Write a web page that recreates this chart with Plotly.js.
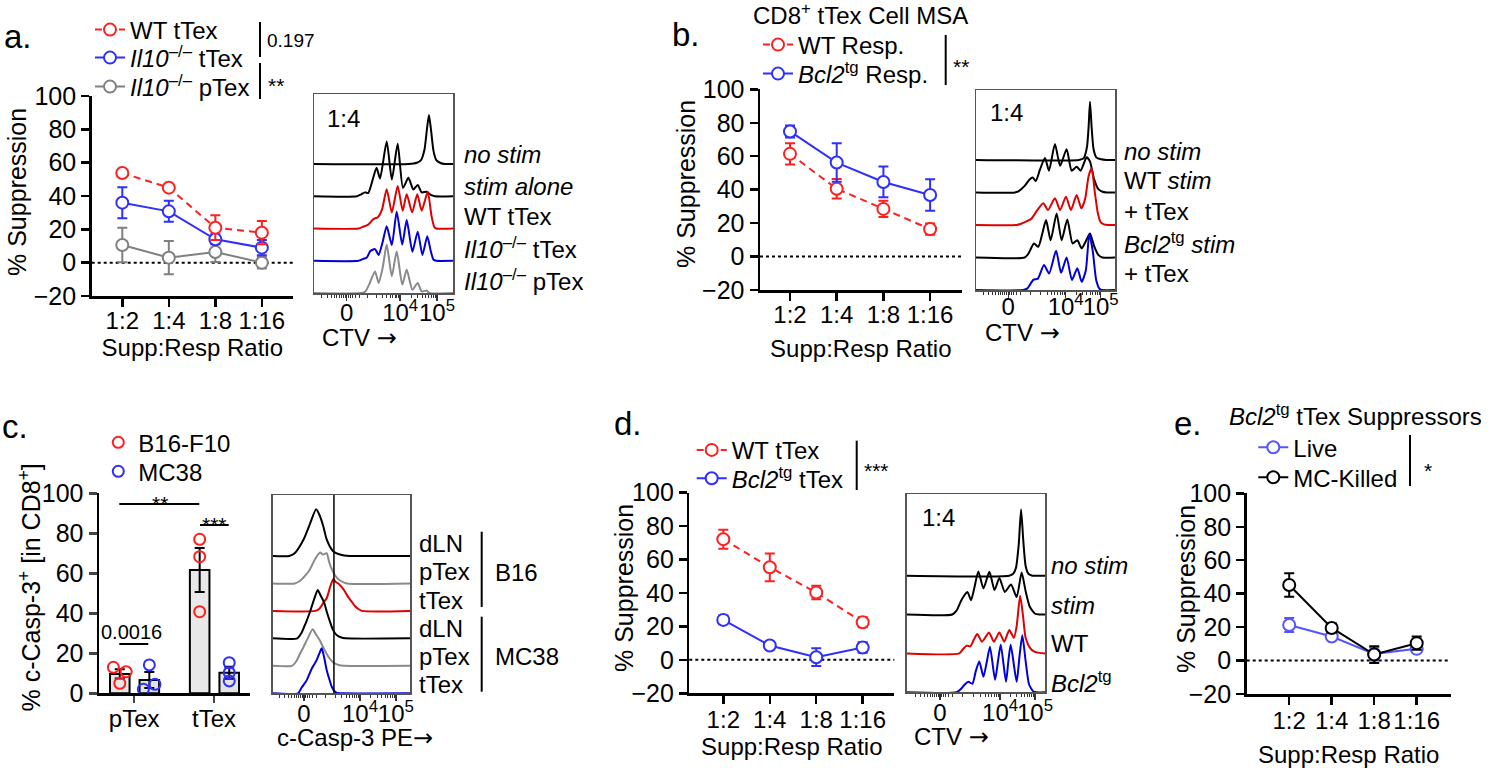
<!DOCTYPE html>
<html>
<head>
<meta charset="utf-8">
<script src="https://cdn.plot.ly/plotly-3.0.1.min.js"></script>
<style>html,body{margin:0;padding:0;background:#fff;}#chart{width:1500px;height:768px;}</style>
</head>
<body>
<div id="chart"></div>
<script>
// ---------------- DATA ----------------
const ratioCats = ['1:2', '1:4', '1:8', '1:16'];

// panel a: % suppression
const aWT = [53.8, 45.0, 21.0, 18.0];
const aWTerr = [1.5, 1.5, 7.4, 7.0];
const aIl10tTex = [36.0, 30.8, 14.0, 9.0];
const aIl10tTexErr = [9.3, 6.3, 3.0, 4.6];
const aIl10pTex = [10.6, 3.0, 6.4, 0.0];
const aIl10pTexErr = [10.4, 10.0, 6.0, 3.5];

// panel b
const bWTResp = [61.4, 40.5, 28.5, 16.4];
const bWTRespErr = [6.3, 5.8, 4.8, 3.3];
const bBcl2Resp = [74.8, 56.2, 44.6, 36.8];
const bBcl2RespErr = [3.6, 11.5, 9.2, 9.4];

// panel c: % c-Casp-3+
const cGroups = ['pTex', 'tTex'];
const cB16Mean = [9.7, 61.7];
const cB16Sem = [2.3, 11.0];
const cMC38Mean = [6.7, 10.3];
const cMC38Sem = [4.0, 3.0];
const cB16Points = [[13.0, 10.8, 5.0], [77.0, 68.3, 40.8]];
const cMC38Points = [[14.2, 4.5, 2.0], [15.3, 10.3, 6.2]];

// panel d
const dWT = [72.2, 55.4, 40.3, 22.5];
const dWTerr = [5.7, 8.3, 4.0, 3.0];
const dBcl2 = [23.9, 8.6, 1.6, 7.4];
const dBcl2Err = [2.6, 2.3, 5.3, 3.2];

// panel e
const eLive = [21.3, 14.4, 4.0, 7.0];
const eLiveErr = [4.2, 1.5, 4.0, 2.0];
const eKilled = [45.2, 19.5, 3.6, 10.4];
const eKilledErr = [7.0, 2.8, 5.0, 4.0];

// histogram curves: [channel (0-100 across plot), height (in row units)]
const aNoStim = [[0,0],[68,0],[74,0.04],[77,0.12],[79.5,0.45],[81.3,1.1],[82.7,1.52],[84.2,1.05],[86,0.4],[88,0.12],[91,0.03],[94,0],[100,0]];
const aStimAlone = [[0,0],[31,0],[34,0.06],[36.7,0.12],[39,0.1],[41.5,0.4],[45,0.88],[47.5,0.55],[52.3,1.7],[56,0.52],[60.2,1.63],[64,0.26],[67.9,0.57],[71.5,0.21],[74.6,0.35],[77.5,0.12],[81,0.14],[84,0.04],[87,0],[100,0]];
const aWTtTex = [[0,0],[32,0],[35,0.05],[39,0.12],[42.7,0.29],[46,0.35],[49,0.6],[52.3,1.22],[56,0.5],[60.2,1.32],[63.8,0.55],[66.7,1.06],[70.6,0.5],[74.3,1.06],[77.5,0.55],[81.8,1.14],[84.5,0.4],[86.5,0.05],[88,0],[100,0]];
const aIl10tTexHist = [[0,0],[32,0],[35,0.05],[38,0.1],[40.5,0.3],[43.9,0.36],[46.5,0.18],[49.5,0.6],[52.3,1.07],[56,0.49],[59.5,1.52],[63.5,0.5],[66.7,1.26],[70.8,0.28],[74.6,0.9],[78,0.18],[81.5,0.76],[84,0.3],[86,0.03],[88,0],[100,0]];
const aIl10pTexHist = [[0,0],[34,0],[37,0.05],[40,0.3],[43.9,0.67],[46.5,0.31],[49.5,0.8],[52.3,1.5],[56,0.52],[59.5,1.29],[63.5,0.26],[66.7,0.72],[70.8,0.1],[74.6,0.31],[77.5,0.05],[81,0.08],[83,0],[100,0]];

const bNoStim = [[0,0],[74,0],[77.5,0.05],[78.5,0.15],[80,0.45],[81,1.0],[82,1.79],[83.2,1.0],[84.5,0.35],[86.5,0.08],[90,0.02],[94,0],[100,0]];
const bWTStim = [[0,0],[28,0],[31,0.05],[35,0.2],[38.5,0.4],[40.8,0.46],[43,0.35],[46,0.7],[49.6,1.06],[52.5,0.67],[56.8,1.49],[60.5,0.82],[65.2,1.33],[68.8,0.67],[72.4,0.79],[75.2,0.67],[79.6,1.08],[82,0.95],[85,0.4],[88,0.1],[91,0.02],[94,0],[100,0]];
const bWTtTex = [[0,0],[29,0],[32,0.03],[36,0.1],[40,0.2],[44,0.45],[48.4,0.67],[51.8,0.46],[56.8,0.82],[60.5,0.46],[64.7,0.87],[68.3,0.46],[72.4,0.92],[75.8,0.51],[78.5,0.8],[81,1.5],[83.2,1.74],[85.5,1.0],[87.5,0.4],[89.5,0.1],[92,0.02],[95,0],[100,0]];
const bBcl2Stim = [[0,0],[35,0],[37.5,0.1],[41.7,0.43],[44.8,0.33],[47.5,0.7],[50.4,1.15],[53.7,0.53],[58,1.35],[61.6,0.53],[65.7,1.17],[69.5,0.43],[72.9,0.53],[76,0.28],[79,0.5],[82,0.74],[85,0.35],[88,0.08],[91,0],[100,0]];
const bBcl2tTex = [[0,0],[34,0],[37,0.05],[41.2,0.31],[44.5,0.35],[48.9,0.77],[52.6,0.51],[57.6,1.21],[61.2,0.53],[65.2,1.0],[69,0.31],[72.9,0.67],[76,0.25],[79,0.6],[81.5,1.72],[84,1.2],[86.5,0.3],[89,0.03],[91,0],[100,0]];

const cB16dLN = [[0,0],[12,0],[16,0.1],[22.3,0.58],[27,1.15],[31.6,1.7],[34,1.5],[36.9,1.07],[39,0.65],[41.7,0.34],[44.5,0.15],[47.8,0.07],[52,0.02],[56,0],[100,0]];
const cB16pTex = [[0,0],[16,0],[20,0.1],[24,0.3],[27.2,0.52],[31,0.9],[34.5,1.13],[36.5,1.05],[39.3,1.1],[41,0.8],[43,0.52],[46.5,0.22],[50,0.08],[54,0],[100,0]];
const cB16tTex = [[0,0],[31,0],[34,0.08],[37,0.3],[39.3,0.46],[42,0.9],[44.2,1.16],[46,1.05],[47.8,1.0],[50,0.88],[52.7,0.7],[55,0.5],[57.5,0.34],[60,0.17],[62.4,0.07],[65,0],[100,0]];
const cMC38dLN = [[0,0],[18,0],[21,0.2],[24,0.55],[27.2,0.97],[30,1.4],[32.8,1.76],[35,1.55],[37.5,1.3],[39.5,0.95],[41.7,0.61],[44,0.3],[46.6,0.12],[50,0.03],[53,0],[100,0]];
const cMC38pTex = [[0,0],[14,0],[17,0.15],[20,0.45],[22.3,0.67],[25.5,1.0],[29.1,1.33],[31.5,1.15],[34.5,0.91],[36,0.75],[38.1,0.55],[41,0.3],[44.2,0.12],[48,0.03],[52,0],[100,0]];
const cMC38tTex = [[0,0],[18.5,0],[21,0.2],[24.8,0.48],[28,0.85],[32,1.21],[34,1.45],[35.7,1.64],[37.5,1.3],[39.3,0.85],[41,0.55],[43,0.24],[45,0.08],[47,0.01],[49,0],[100,0]];

const dNoStim = [[0,0],[74,0],[77,0.05],[79,0.2],[81,0.8],[82.7,1.7],[84.3,0.9],[86,0.25],[88,0.05],[91,0],[100,0]];
const dStim = [[0,0],[33,0],[36,0.1],[40,0.4],[43.9,0.58],[46.5,0.37],[49,0.7],[51.8,1.11],[55.5,0.67],[59.8,1.1],[63.5,0.63],[67,0.94],[71,0.58],[75.4,0.77],[79.5,0.45],[83.1,1.08],[86,0.6],[89,0.2],[92.8,0.02],[96,0],[100,0]];
const dWTHist = [[0,0],[38,0],[40.5,0.1],[43.4,0.2],[46,0.18],[48.5,0.35],[51,0.5],[54.5,0.3],[59.5,0.54],[63,0.3],[67,0.54],[70.5,0.3],[74.2,0.6],[77.5,0.4],[79.5,0.7],[82,1.48],[84,1.0],[86,0.4],[89,0.15],[92,0.05],[95,0.02],[100,0]];
const dBcl2Hist = [[0,0],[36,0],[39,0.08],[42,0.2],[44.6,0.27],[47.5,0.22],[50,0.55],[52.5,0.79],[55.5,0.4],[58,0.8],[60.2,1.17],[63.9,0.32],[66,0.8],[68,1.22],[71.8,0.27],[73.5,0.8],[75.2,1.22],[79.5,0.27],[81.5,0.9],[83.6,1.47],[86,0.8],[88.5,0.2],[91.6,0.02],[94,0],[100,0]];

// ---------------- STYLE / LAYOUT HELPERS ----------------
const W = 1500, H = 768;
const FONT = 'Liberation Sans, Arial, Helvetica, sans-serif';
const RED = '#ff1f1f', BLUE = '#2f2fff', GRAY = '#808080', LBLUE = '#5555ff';
const HRED = '#e00000', HBLUE = '#0000dd', HGRAY = '#8a8a8a';
const ARROW = '<span style="font-family:DejaVu Sans">→</span>';
const px = v => v / W;
const py = v => 1 - v / H;
const xdom = (l, r) => [px(l), px(r)];
const ydom = (t, b) => [py(b), py(t)];

function lineYAxis(t, b, xanchor) {
  return {domain: ydom(t, b), anchor: xanchor, range: [-20, 100], tick0: 0, dtick: 20, showline: true, linecolor: '#000', linewidth: 2.5,
    ticks: 'outside', ticklen: 8, tickwidth: 2.5, tickcolor: '#000', tickfont: {size: 25, color: '#000'},
    showgrid: false, zeroline: false, fixedrange: true};
}
function lineXAxis(l, r, range, yanchor, labelShift, standoff) {
  return {domain: xdom(l, r), type: 'category', range: range, anchor: yanchor, showline: true, linecolor: '#000', linewidth: 2.5,
    ticks: 'outside', ticklen: 8, tickwidth: 2.5, tickcolor: '#000', tickangle: 0, tickfont: {size: 24, color: '#000'},
    ticklabelstandoff: labelShift, showgrid: false, zeroline: false, fixedrange: true,
    title: {text: 'Supp:Resp Ratio', font: {size: 24, color: '#000'}, standoff: standoff}};
}
function histXAxis(l, r, yanchor, t0, t4, t5, labelShift) {
  const t3 = t0 + 0.38 * (t4 - t0);
  const minorVals = [t0 - 18, t0 - 14, t0 - 11, t0 - 9, t0 - 7, t0 - 5.5, t0 - 4, t0 - 2.5, t0 - 1.2, t0 + 1.2, t0 + 2.5, t0 + 4, t0 + 6, t0 + 9, t3];
  for (let k = 2; k <= 9; k++) { minorVals.push(t3 + (t4 - t3) * Math.log10(k)); minorVals.push(t4 + (t5 - t4) * Math.log10(k)); }
  return {domain: xdom(l, r), range: [0, 100], anchor: yanchor, showline: true, mirror: true, linecolor: '#555', linewidth: 1.5,
    tickmode: 'array', tickvals: [t0, t4, t5], ticktext: ['0', '10<sup>4</sup>', '10<sup>5</sup>'],
    ticks: 'outside', ticklen: 6, tickwidth: 1.5, tickcolor: '#333', tickangle: 0, tickfont: {size: 24, color: '#000'},
    ticklabelstandoff: labelShift,
    minor: {tickmode: 'array', tickvals: minorVals, ticks: 'outside', ticklen: 3, tickwidth: 1, tickcolor: '#333'},
    showgrid: false, zeroline: false, fixedrange: true};
}
function histYAxis(t, b, top, xanchor) {
  return {domain: ydom(t, b), range: [0, top], anchor: xanchor, showline: true, mirror: true, linecolor: '#555', linewidth: 1.5,
    ticks: '', showticklabels: false, showgrid: false, zeroline: false, fixedrange: true};
}

const traces = [];
function addLine(y, err, color, dash, name, xa, ya, legend) {
  traces.push({type: 'scatter', mode: 'lines+markers', x: ratioCats, y: y, name: name, xaxis: xa, yaxis: ya, legend: legend,
    line: {color: color, width: 2, dash: dash}, marker: {symbol: 'circle', size: 12, color: '#fff', line: {color: color, width: 2}},
    error_y: {type: 'data', array: err, visible: true, color: color, thickness: 2, width: 5}, cliponaxis: false, hoverinfo: 'y'});
}
function addHist(curve, offset, color, xa, ya) {
  traces.push({type: 'scatter', mode: 'lines', x: curve.map(p => p[0]), y: curve.map(p => p[1] + offset), xaxis: xa, yaxis: ya,
    showlegend: false, hoverinfo: 'skip', line: {color: color, width: 2, shape: 'spline', smoothing: 0.6}});
}

// ---------------- TRACES ----------------
// panel a
addLine(aIl10pTex, aIl10pTexErr, GRAY, 'solid', '<i>Il10</i><sup>–/–</sup> pTex', 'x', 'y', 'legend3');
addLine(aIl10tTex, aIl10tTexErr, BLUE, 'solid', '<i>Il10</i><sup>–/–</sup> tTex', 'x', 'y', 'legend2');
addLine(aWT, aWTerr, RED, '7px,5px', 'WT tTex', 'x', 'y', 'legend');
addHist(aNoStim, 4, '#000', 'x2', 'y2');
addHist(aStimAlone, 3, '#000', 'x2', 'y2');
addHist(aWTtTex, 2, HRED, 'x2', 'y2');
addHist(aIl10tTexHist, 1, HBLUE, 'x2', 'y2');
addHist(aIl10pTexHist, 0, HGRAY, 'x2', 'y2');
// panel b
addLine(bWTResp, bWTRespErr, RED, '7px,5px', 'WT Resp.', 'x3', 'y3', 'legend4');
addLine(bBcl2Resp, bBcl2RespErr, BLUE, 'solid', '<i>Bcl2</i><sup>tg</sup> Resp.', 'x3', 'y3', 'legend5');
addHist(bNoStim, 4, '#000', 'x4', 'y4');
addHist(bWTStim, 3, '#000', 'x4', 'y4');
addHist(bWTtTex, 2, HRED, 'x4', 'y4');
addHist(bBcl2Stim, 1, '#000', 'x4', 'y4');
addHist(bBcl2tTex, 0, HBLUE, 'x4', 'y4');
// panel c bars
const B16_OFF = -0.18, MC_OFF = 0.19, BAR_W = 0.245;
const cJitterB16 = [[-0.08, 0.08, 0], [0, 0, 0]];
const cJitterMC = [[0, 0.07, -0.075], [0, 0, 0]];
traces.push({type: 'bar', x: cGroups.map((g, i) => i + B16_OFF), y: cB16Mean, width: BAR_W, xaxis: 'x5', yaxis: 'y5', showlegend: false,
  marker: {color: '#e8e8e8', line: {color: '#000', width: 2}}, error_y: {type: 'data', array: cB16Sem, color: '#000', thickness: 2, width: 5}});
traces.push({type: 'bar', x: cGroups.map((g, i) => i + MC_OFF), y: cMC38Mean, width: BAR_W, xaxis: 'x5', yaxis: 'y5', showlegend: false,
  marker: {color: '#e3e3e3', line: {color: '#000', width: 2}}, error_y: {type: 'data', array: cMC38Sem, color: '#000', thickness: 2, width: 5}});
function dotTrace(points, jit, off, color, name, legend) {
  const xs = [], ys = [];
  points.forEach((arr, i) => arr.forEach((v, k) => { xs.push(i + off + jit[i][k]); ys.push(v); }));
  return {type: 'scatter', mode: 'markers', x: xs, y: ys, name: name, legend: legend, xaxis: 'x5', yaxis: 'y5', cliponaxis: false,
    marker: {symbol: 'circle-open', size: 11, color: color, line: {width: 2, color: color}}};
}
traces.push(dotTrace(cB16Points, cJitterB16, B16_OFF, RED, 'B16-F10', 'legend6'));
traces.push(dotTrace(cMC38Points, cJitterMC, MC_OFF, BLUE, 'MC38', 'legend7'));
// panel c histograms
addHist(cB16dLN, 5, '#000', 'x6', 'y6');
addHist(cB16pTex, 4, HGRAY, 'x6', 'y6');
addHist(cB16tTex, 3, HRED, 'x6', 'y6');
addHist(cMC38dLN, 2, '#000', 'x6', 'y6');
addHist(cMC38pTex, 1, HGRAY, 'x6', 'y6');
addHist(cMC38tTex, 0, HBLUE, 'x6', 'y6');
// panel d
addLine(dWT, dWTerr, RED, '7px,5px', 'WT tTex', 'x7', 'y7', 'legend8');
addLine(dBcl2, dBcl2Err, BLUE, 'solid', '<i>Bcl2</i><sup>tg</sup> tTex', 'x7', 'y7', 'legend9');
addHist(dNoStim, 3, '#000', 'x8', 'y8');
addHist(dStim, 2, '#000', 'x8', 'y8');
addHist(dWTHist, 1, HRED, 'x8', 'y8');
addHist(dBcl2Hist, 0, HBLUE, 'x8', 'y8');
// panel e
addLine(eLive, eLiveErr, LBLUE, 'solid', 'Live', 'x9', 'y9', 'legend10');
addLine(eKilled, eKilledErr, '#000', 'solid', 'MC-Killed', 'x9', 'y9', 'legend11');

// ---------------- LAYOUT ----------------
function leg(markerX, centerY) {
  return {x: px(markerX - 20), xanchor: 'left', y: py(centerY - 21.5), yanchor: 'top', bgcolor: 'rgba(0,0,0,0)',
    borderwidth: 0, itemwidth: 30, font: {family: FONT, size: 24, color: '#000'}, itemclick: false, itemdoubleclick: false};
}
function ann(text, x, y, size, align, extra) {
  return Object.assign({text: text, x: px(x), y: py(y), xref: 'paper', yref: 'paper', showarrow: false,
    xanchor: align || 'left', yanchor: 'middle', font: {family: FONT, size: size, color: '#000'}}, extra || {});
}
function ytitle(text, x, y) {
  return ann(text, x, y, 25, 'center', {textangle: -90});
}
function vbar(x, y0, y1) {
  return {type: 'line', xref: 'paper', yref: 'paper', x0: px(x), x1: px(x), y0: py(y0), y1: py(y1), line: {color: '#000', width: 2}};
}
function hbar(x0, x1, y) {
  return {type: 'line', xref: 'paper', yref: 'paper', x0: px(x0), x1: px(x1), y0: py(y), y1: py(y), line: {color: '#000', width: 2}};
}
function zeroLine(xa, ya) {
  return {type: 'line', xref: xa + ' domain', yref: ya, x0: 0, x1: 1, y0: 0, y1: 0, line: {color: '#000', width: 2, dash: 'dot'}, layer: 'below'};
}

const layout = {
  width: W, height: H, margin: {l: 0, r: 0, t: 0, b: 0}, paper_bgcolor: '#fff', plot_bgcolor: 'rgba(0,0,0,0)',
  font: {family: FONT, color: '#000'}, showlegend: true, barmode: 'overlay', hovermode: false,
  // a
  xaxis: lineXAxis(91.7, 293, [-0.658, 3.67], 'y', -6, 6),
  yaxis: lineYAxis(96, 296, 'x'),
  xaxis2: histXAxis(314, 453, 'y2', 23.5, 62, 88.5, -8),
  yaxis2: histYAxis(94, 293, 6.17, 'x2'),
  // b
  xaxis3: lineXAxis(760, 961.7, [-0.642, 3.676], 'y3', -6, 13),
  yaxis3: lineYAxis(89.3, 290, 'x3'),
  xaxis4: histXAxis(976, 1115, 'y4', 23.2, 64.5, 89.7, -11),
  yaxis4: histYAxis(90, 290, 6.15, 'x4'),
  // c
  xaxis5: {domain: xdom(99, 250), range: [-0.44, 1.45], anchor: 'y5', showline: true, linecolor: '#000', linewidth: 2.5,
    tickmode: 'array', tickvals: cGroups.map((g, i) => i), ticktext: cGroups, ticks: 'outside', ticklen: 7, tickwidth: 2.5,
    ticklabelstandoff: -5, tickangle: 0, tickfont: {size: 24, color: '#000'}, showgrid: false, zeroline: false, fixedrange: true},
  yaxis5: {domain: ydom(493.3, 693.3), range: [0, 100], tick0: 0, dtick: 20, anchor: 'x5', showline: true, linecolor: '#000', linewidth: 2.5,
    ticks: 'outside', ticklen: 8, tickwidth: 2.5, tickfont: {size: 25, color: '#000'}, showgrid: false, zeroline: false, fixedrange: true},
  xaxis6: histXAxis(272.7, 410, 'y6', 22.8, 63.6, 89.7, -8),
  yaxis6: histYAxis(495, 693.3, 7.22, 'x6'),
  // d
  xaxis7: lineXAxis(689.3, 894.3, [-0.732, 3.68], 'y7', -5, 5),
  yaxis7: lineYAxis(492.7, 693.3, 'x7'),
  xaxis8: histXAxis(906.7, 1045, 'y8', 24, 67.5, 92.8, -8),
  yaxis8: histYAxis(494, 692.3, 5.1, 'x8'),
  // e
  xaxis9: lineXAxis(1246.7, 1450.7, [-1.0, 3.8], 'y9', -4, 13),
  yaxis9: lineYAxis(493.3, 694, 'x9'),
  legend: leg(110, 29), legend2: leg(110, 57), legend3: leg(110, 86),
  legend4: leg(778, 44), legend5: leg(778, 73),
  legend6: leg(118.3, 441.7), legend7: leg(118.3, 470.7),
  legend8: leg(711.7, 449.3), legend9: leg(711.7, 477.7),
  legend10: leg(1273.3, 446.7), legend11: leg(1273.3, 476.7),
  shapes: [
    zeroLine('x', 'y'), zeroLine('x3', 'y3'), zeroLine('x7', 'y7'), zeroLine('x9', 'y9'),
    vbar(260, 22, 57), vbar(260, 63, 99),
    vbar(945.7, 35, 85),
    vbar(856.7, 440.7, 490),
    vbar(1410, 435, 486),
    vbar(481.7, 531.7, 607), vbar(481.7, 616.7, 691.7),
    hbar(119.3, 199.3, 504), hbar(200, 228.7, 525), hbar(119.3, 148.3, 644),
    {type: 'line', xref: 'x6', yref: 'y6 domain', x0: 44.6, x1: 44.6, y0: 0, y1: 1, line: {color: '#000', width: 1.5}}
  ],
  annotations: [
    // y-axis titles
    ytitle('% Suppression', 17, 192), ytitle('% Suppression', 686, 184),
    ytitle('% c-Casp-3<sup>+</sup> [in CD8<sup>+</sup>]', 29.5, 588),
    ytitle('% Suppression', 624, 588), ytitle('% Suppression', 1186, 589),
    // a
    ann('a.', 2, 36, 33), ann('0.197', 265, 40, 19), ann('**', 266, 86, 21),
    ann('1:4', 325, 118, 24),
    ann('<i>no stim</i>', 461.7, 155, 24), ann('<i>stim alone</i>', 461.7, 186.7, 24), ann('WT tTex', 461.7, 216.7, 24),
    ann('<i>Il10</i><sup>–/–</sup> tTex', 461.7, 248.3, 24), ann('<i>Il10</i><sup>–/–</sup> pTex', 461.7, 280, 24),
    ann('CTV ' + ARROW, 320, 338, 24),
    // b
    ann('b.', 670, 35, 33), ann('CD8<sup>+</sup> tTex Cell MSA', 860, 14, 24, 'center'), ann('**', 951, 66, 21),
    ann('1:4', 988, 113, 24),
    ann('<i>no stim</i>', 1121.7, 151, 24), ann('WT <i>stim</i>', 1121.7, 180, 24), ann('+ tTex', 1121.7, 211.7, 24),
    ann('<i>Bcl2</i><sup>tg</sup> <i>stim</i>', 1121.7, 243.3, 24), ann('+ tTex', 1121.7, 273.3, 24),
    ann('CTV ' + ARROW, 983, 333, 24),
    // c
    ann('c.', 0, 426, 33), ann('**', 160, 503, 21, 'center'), ann('***', 214.3, 524, 21, 'center'), ann('0.0016', 131.7, 631.7, 20, 'center'),
    ann('dLN', 416.7, 543, 24), ann('pTex', 416.7, 571.7, 24), ann('tTex', 416.7, 600, 24),
    ann('dLN', 416.7, 628.3, 24), ann('pTex', 416.7, 656.7, 24), ann('tTex', 416.7, 684, 24),
    ann('B16', 493, 572.7, 24), ann('MC38', 493, 656.7, 24),
    ann('c-Casp-3 PE' + ARROW, 275, 738, 24),
    // d
    ann('d.', 611.7, 423, 33), ann('***', 862, 470, 21),
    ann('1:4', 920, 517, 24),
    ann('<i>no stim</i>', 1049.3, 565, 24), ann('<i>stim</i>', 1049.3, 605, 24), ann('WT', 1049.3, 643.3, 24),
    ann('<i>Bcl2</i><sup>tg</sup>', 1049.3, 681.7, 24),
    ann('CTV ' + ARROW, 911.7, 737, 24),
    // e
    ann('e.', 1171.7, 423, 33), ann('<i>Bcl2</i><sup>tg</sup> tTex Suppressors', 1226.7, 415, 24), ann('*', 1422, 470, 21)
  ]
};

Plotly.newPlot('chart', traces, layout, {displayModeBar: false, staticPlot: true});
</script>
</body>
</html>
